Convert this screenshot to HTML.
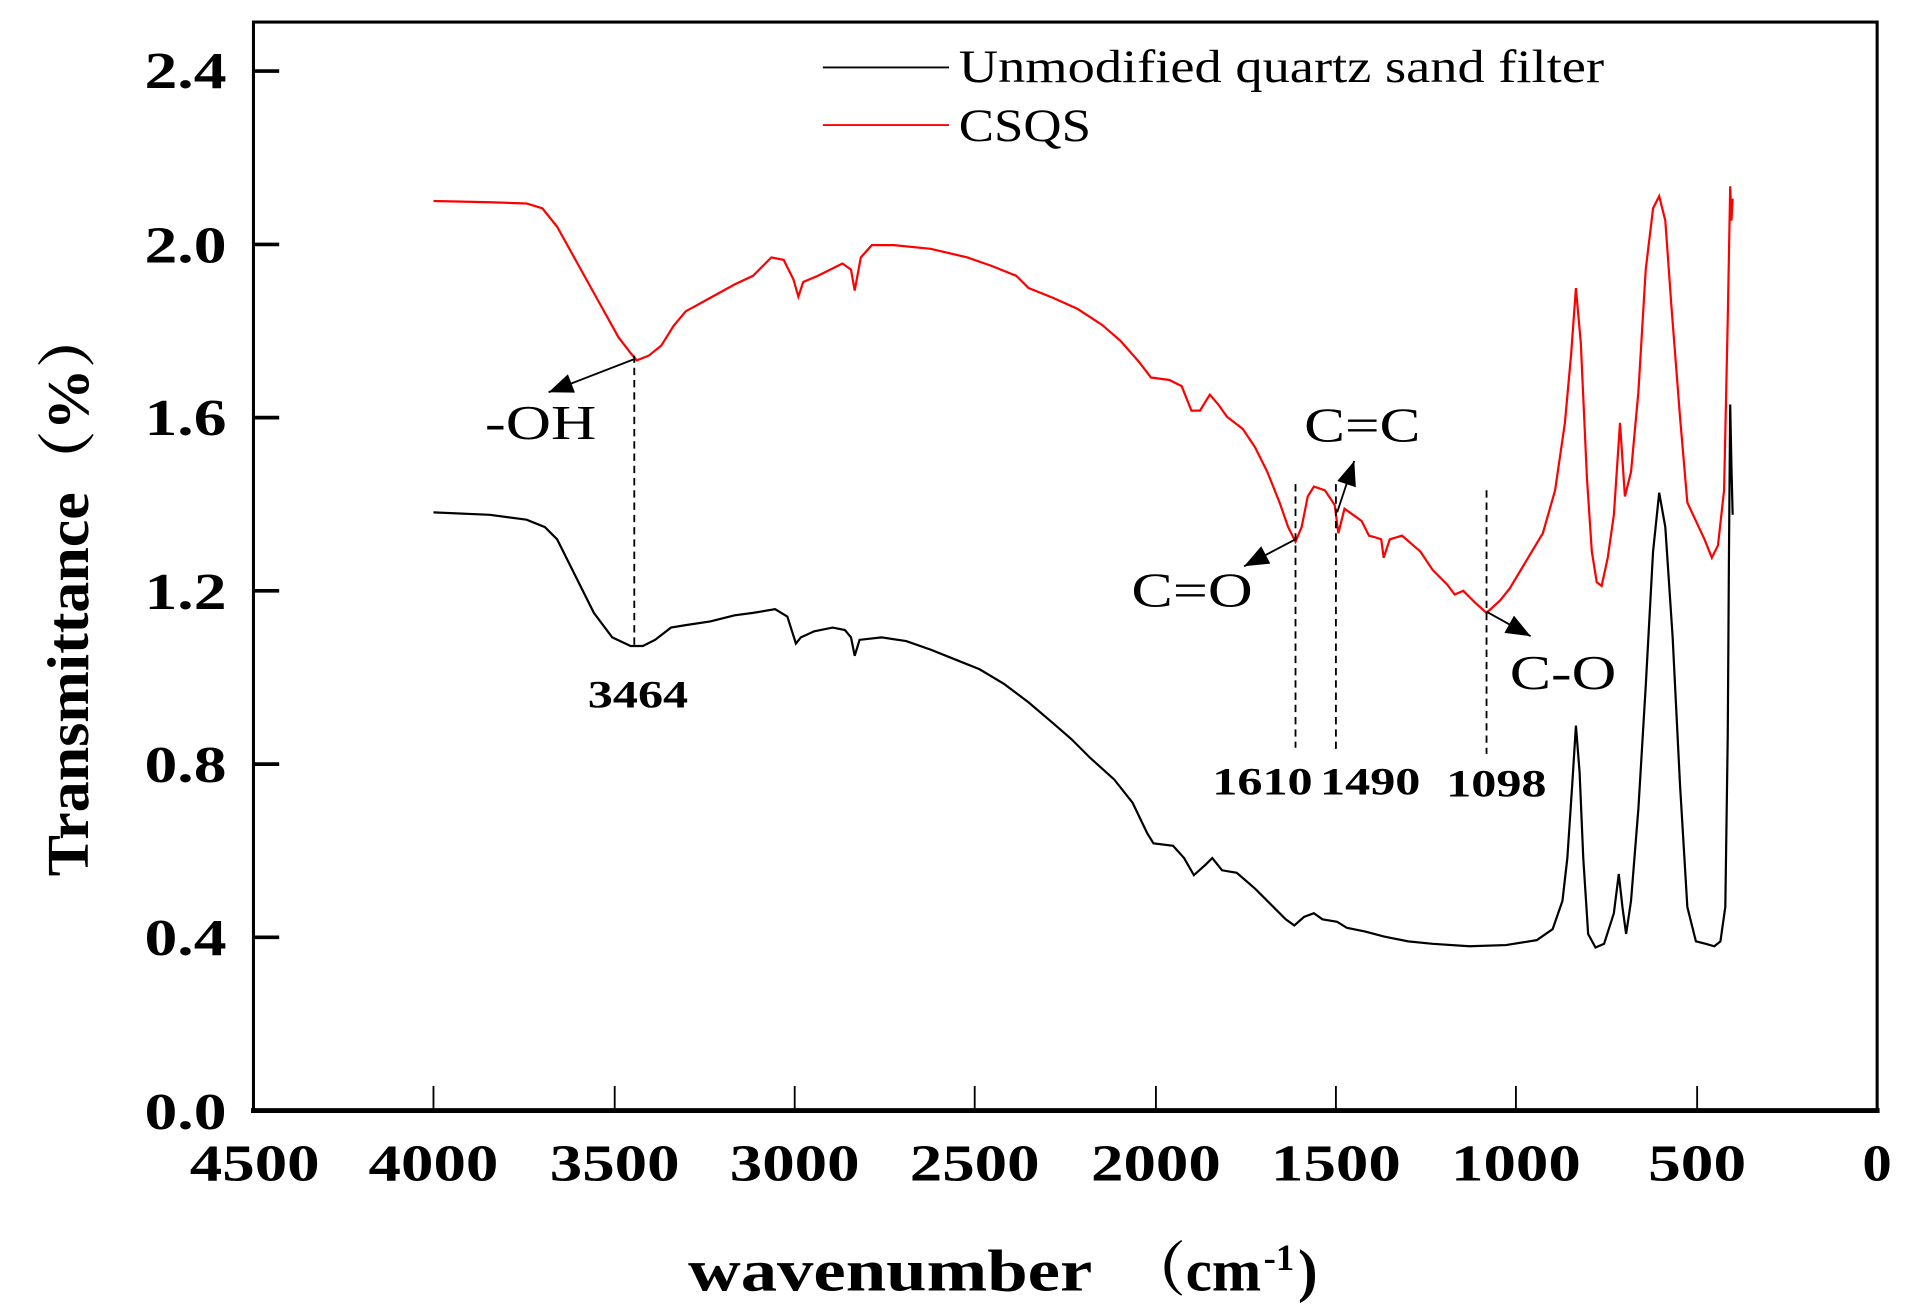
<!DOCTYPE html>
<html><head><meta charset="utf-8"><style>
html,body{margin:0;padding:0;background:#fff;}
svg{display:block;}
text{font-family:"Liberation Serif","Noto Serif CJK SC",serif;}
</style></head><body>
<svg width="1920" height="1314" viewBox="0 0 1568 1072" preserveAspectRatio="none" xmlns="http://www.w3.org/2000/svg">
<defs>
<marker id="ah2" viewBox="0 0 10 8" markerWidth="22" markerHeight="16" refX="10" refY="4" orient="auto" markerUnits="userSpaceOnUse">
<path d="M0,0 L10,4 L0,8 z" fill="#000"/>
</marker>
</defs>
<rect x="207" y="18" width="1326" height="888" fill="none" stroke="#000" stroke-width="2.5"/>
<line x1="205" y1="906" x2="1535" y2="906" stroke="#000" stroke-width="4"/>
<g stroke="#000" stroke-width="3">
<line x1="207" y1="906" x2="228" y2="906"/>
<line x1="207" y1="764.7" x2="228" y2="764.7"/>
<line x1="207" y1="623.4" x2="228" y2="623.4"/>
<line x1="207" y1="482" x2="228" y2="482"/>
<line x1="207" y1="340.7" x2="228" y2="340.7"/>
<line x1="207" y1="199.4" x2="228" y2="199.4"/>
<line x1="207" y1="58" x2="228" y2="58"/>
</g>
<g stroke="#000" stroke-width="1.5">
<line x1="354" y1="906" x2="354" y2="886"/>
<line x1="502" y1="906" x2="502" y2="886"/>
<line x1="649" y1="906" x2="649" y2="886"/>
<line x1="796" y1="906" x2="796" y2="886"/>
<line x1="944" y1="906" x2="944" y2="886"/>
<line x1="1091" y1="906" x2="1091" y2="886"/>
<line x1="1238" y1="906" x2="1238" y2="886"/>
<line x1="1386" y1="906" x2="1386" y2="886"/>
</g>
<g font-size="42" font-weight="bold" lengthAdjust="spacingAndGlyphs">
<text x="118" y="921" textLength="67" lengthAdjust="spacingAndGlyphs">0.0</text>
<text x="118" y="779" textLength="67" lengthAdjust="spacingAndGlyphs">0.4</text>
<text x="118" y="638" textLength="67" lengthAdjust="spacingAndGlyphs">0.8</text>
<text x="118" y="497" textLength="67" lengthAdjust="spacingAndGlyphs">1.2</text>
<text x="118" y="355" textLength="67" lengthAdjust="spacingAndGlyphs">1.6</text>
<text x="118" y="214" textLength="67" lengthAdjust="spacingAndGlyphs">2.0</text>
<text x="118" y="72" textLength="67" lengthAdjust="spacingAndGlyphs">2.4</text>
</g>
<g font-size="42" font-weight="bold">
<text x="155" y="963" textLength="106" lengthAdjust="spacingAndGlyphs">4500</text>
<text x="301" y="963" textLength="106" lengthAdjust="spacingAndGlyphs">4000</text>
<text x="449" y="963" textLength="106" lengthAdjust="spacingAndGlyphs">3500</text>
<text x="596" y="963" textLength="106" lengthAdjust="spacingAndGlyphs">3000</text>
<text x="743" y="963" textLength="106" lengthAdjust="spacingAndGlyphs">2500</text>
<text x="891" y="963" textLength="106" lengthAdjust="spacingAndGlyphs">2000</text>
<text x="1038" y="963" textLength="106" lengthAdjust="spacingAndGlyphs">1500</text>
<text x="1185" y="963" textLength="106" lengthAdjust="spacingAndGlyphs">1000</text>
<text x="1346" y="963" textLength="80" lengthAdjust="spacingAndGlyphs">500</text>
<text x="1521" y="963" textLength="24" lengthAdjust="spacingAndGlyphs">0</text>
</g>
<text x="562" y="1053" font-size="48" font-weight="bold" textLength="330" lengthAdjust="spacingAndGlyphs">wavenumber</text>
<text x="920" y="1053" font-size="48" font-weight="bold" textLength="110" lengthAdjust="spacingAndGlyphs">（cm</text>
<text x="1032" y="1036" font-size="30" font-weight="bold">-1</text>
<text x="1060" y="1053" font-size="48" font-weight="bold">)</text>
<text transform="translate(72,715) rotate(-90)" font-size="48" font-weight="bold" textLength="465" lengthAdjust="spacingAndGlyphs">Transmittance（%）</text>
<line x1="672" y1="55" x2="775" y2="55" stroke="#000" stroke-width="1.5"/>
<text x="783" y="67" font-size="38" textLength="527" lengthAdjust="spacingAndGlyphs">Unmodified quartz sand filter</text>
<line x1="672" y1="102" x2="775" y2="102" stroke="#f00" stroke-width="1.5"/>
<text x="783" y="115" font-size="38" textLength="108" lengthAdjust="spacingAndGlyphs">CSQS</text>
<polyline fill="none" stroke="#000" stroke-width="1.8" points="354,418 400,420 430,424 445,430 455,440 470,470 485,500 500,520 515,527 525,527 535,522 548,512 560,510 580,507 600,502 615,500 633,497 643,503 650,525 654,520 665,515 680,512 690,514 695,520 698,535 702,522 720,520 740,523 760,530 780,538 800,546 820,558 840,573 860,590 875,603 890,618 910,636 925,655 937,680 942,688 958,690 967,700 975,714 985,705 990,700 998,710 1010,712 1025,725 1040,740 1050,750 1057,755 1065,748 1073,745 1080,750 1092,752 1100,757 1115,760 1130,764 1150,768 1170,770 1200,772 1230,771 1255,767 1268,758 1276,735 1280,700 1284,640 1287,592 1290,630 1293,700 1297,762 1303,773 1310,770 1318,745 1322,713 1325,740 1328,762 1332,735 1338,660 1344,560 1350,450 1355,402 1360,430 1366,520 1372,640 1378,740 1385,768 1393,770 1400,772 1405,768 1409,740 1411,600 1412,450 1413,330 1414,380 1415,420"/>
<polyline fill="none" stroke="#f00" stroke-width="1.8" points="354,164 400,165 430,166 443,170 455,185 470,212 490,248 505,275 515,288 520,294 530,290 540,282 550,266 560,254 580,243 600,232 615,225 630,210 640,212 648,228 652,242 656,230 668,225 688,215 695,220 698,237 703,210 712,200 730,200 760,203 790,210 810,217 830,225 840,235 860,243 880,252 900,265 915,278 930,295 940,308 955,310 965,315 973,335 980,335 988,322 995,330 1002,340 1015,350 1025,365 1035,385 1045,410 1052,430 1058,442 1063,430 1068,405 1073,397 1082,400 1090,412 1093,435 1098,415 1105,420 1112,425 1118,437 1122,438 1128,440 1130,455 1135,440 1145,437 1160,450 1170,465 1182,477 1188,485 1195,482 1205,492 1214,500 1225,490 1233,480 1245,460 1260,435 1270,400 1278,345 1283,290 1287,235 1291,280 1296,390 1300,450 1304,475 1308,478 1313,455 1318,420 1323,345 1327,405 1332,385 1338,320 1344,220 1350,170 1355,160 1360,180 1365,250 1372,340 1378,410 1385,425 1392,440 1398,455 1403,445 1408,400 1411,260 1413,152 1414,180 1415,162"/>
<g stroke="#000" stroke-width="1.5" stroke-dasharray="6,4" fill="none">
<line x1="518" y1="290" x2="518" y2="530"/>
<line x1="1058" y1="395" x2="1058" y2="610"/>
<line x1="1091" y1="395" x2="1091" y2="612"/>
<line x1="1214" y1="400" x2="1214" y2="615"/>
</g>
<g stroke="#000" stroke-width="1.5">
<line x1="518" y1="293" x2="448" y2="320" marker-end="url(#ah2)"/>
<line x1="1058" y1="440" x2="1016" y2="462" marker-end="url(#ah2)"/>
<line x1="1092" y1="418" x2="1106" y2="376" marker-end="url(#ah2)"/>
<line x1="1214" y1="499" x2="1250" y2="519" marker-end="url(#ah2)"/>
</g>
<g font-size="40">
<text x="396" y="358" textLength="91" lengthAdjust="spacingAndGlyphs">-OH</text>
<text x="1065" y="360" textLength="95" lengthAdjust="spacingAndGlyphs">C=C</text>
<text x="924" y="495" textLength="99" lengthAdjust="spacingAndGlyphs">C=O</text>
<text x="1233" y="562" textLength="87" lengthAdjust="spacingAndGlyphs">C-O</text>
</g>
<g font-size="32" font-weight="bold">
<text x="480" y="577" textLength="82" lengthAdjust="spacingAndGlyphs">3464</text>
<text x="990" y="648" textLength="82" lengthAdjust="spacingAndGlyphs">1610</text>
<text x="1078" y="648" textLength="82" lengthAdjust="spacingAndGlyphs">1490</text>
<text x="1181" y="650" textLength="82" lengthAdjust="spacingAndGlyphs">1098</text>
</g>
</svg>
</body></html>
